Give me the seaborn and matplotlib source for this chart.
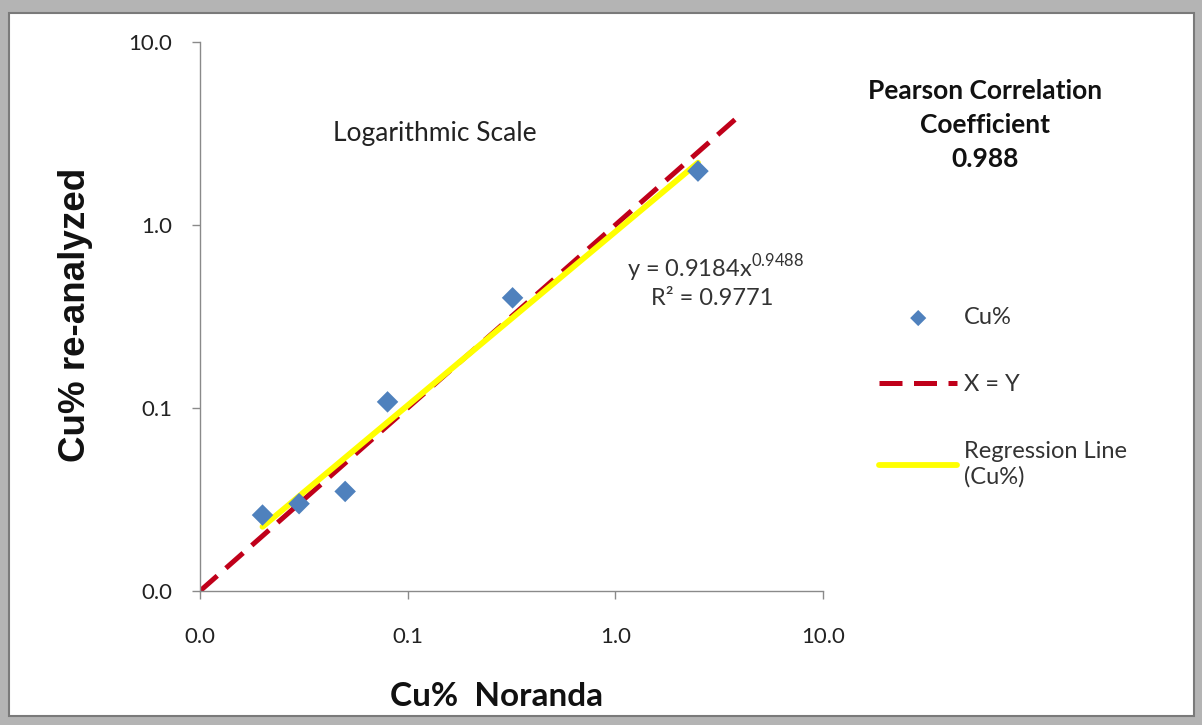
import numpy as np
import matplotlib
matplotlib.use("Agg")
import matplotlib.pyplot as plt
from matplotlib.patches import Rectangle
import seaborn as sns
import pandas as pd

# data
cu_noranda = [0.02, 0.03, 0.05, 0.08, 0.32, 2.5]
cu_reanalyzed = [0.026, 0.030, 0.035, 0.108, 0.40, 1.97]
xy_line = [0.01, 4.0]
reg_a, reg_b = 0.9184, 0.9488
r_squared = 0.9771
pearson = 0.988
tick_values = [0.01, 0.1, 1.0, 10.0]
tick_labels = ["0.0", "0.1", "1.0", "10.0"]

sns.set_theme(style="white")
plt.rcParams["font.family"] = ["Lato", "DejaVu Sans"]
plt.rcParams["mathtext.fontset"] = "custom"
plt.rcParams["mathtext.rm"] = "Lato"

fig = plt.figure(figsize=(12.02, 7.25), dpi=100, facecolor="#b4b4b4")
# white card with grey edge, kept behind the axes
fig.patches.append(Rectangle((9 / 1202, 1 - 716 / 725), 1185 / 1202, 703 / 725,
                             transform=fig.transFigure, facecolor="white",
                             edgecolor="#7a7a7a", linewidth=1.5, zorder=-5))

ax = fig.add_axes([200 / 1202, 1 - 591 / 725, 623 / 1202, 549 / 725])
ax.set_facecolor("none")
ax.set_zorder(2)

df = pd.DataFrame({"Noranda": cu_noranda, "Reanalyzed": cu_reanalyzed})

reg_x = np.geomspace(min(cu_noranda), max(cu_noranda), 50)
reg_y = reg_a * reg_x ** reg_b

sns.scatterplot(data=df, x="Noranda", y="Reanalyzed", marker="D", s=120,
                color="#4F81BD", edgecolor="none", label="Cu%", ax=ax, zorder=3)
ax.plot(xy_line, xy_line, color="#C0001A", linewidth=3.6, dashes=(4.6, 2.3),
        label="X = Y", zorder=2)
ax.plot(reg_x, reg_y, color="#FFFF00", linewidth=4.2,
        label="Regression Line\n(Cu%)", zorder=2.5)

ax.set_xscale("log")
ax.set_yscale("log")
ax.set_xlim(0.01, 10)
ax.set_ylim(0.01, 10)
ax.set_xticks(tick_values)
ax.set_xticklabels(tick_labels)
ax.set_yticks(tick_values)
ax.set_yticklabels(tick_labels)
ax.minorticks_off()
ax.set_xlabel("")
ax.set_ylabel("")

for side in ["top", "right"]:
    ax.spines[side].set_visible(False)
for side in ["left", "bottom"]:
    ax.spines[side].set_color("#8a8a8a")
    ax.spines[side].set_linewidth(1.0)
ax.tick_params(axis="both", which="major", direction="out", length=6, width=1,
               color="#8a8a8a", labelsize=16, labelcolor="#222222",
               bottom=True, left=True)
ax.tick_params(axis="x", pad=20)
ax.tick_params(axis="y", pad=14)

leg = ax.legend(loc="upper left", bbox_to_anchor=(858 / 1202, 1 - 286 / 725),
                bbox_transform=fig.transFigure, frameon=False, fontsize=17,
                handlelength=3.3, labelspacing=1.95, handletextpad=0.3,
                markerscale=0.75)
for t in leg.get_texts():
    t.set_color("#333333")

fig.text(435 / 1202, 1 - 133 / 725, "Logarithmic Scale", fontsize=19,
         ha="center", va="center", color="#222222")
fig.text(985 / 1202, 1 - 125 / 725,
         f"Pearson Correlation\nCoefficient\n{pearson}", fontsize=19,
         fontweight="bold", ha="center", va="center", linespacing=1.48,
         color="#111111")
fig.text(716 / 1202, 1 - 268 / 725, f"y = {reg_a}x$^{{{reg_b}}}$", fontsize=17,
         ha="center", va="center", color="#333333")
fig.text(712 / 1202, 1 - 298 / 725, f"R² = {r_squared}", fontsize=17,
         ha="center", va="center", color="#333333")

fig.text(76 / 1202, 1 - 315 / 725, "Cu% re-analyzed", fontsize=26.5,
         fontweight="bold", rotation=90, ha="center", va="center",
         family=["Liberation Sans", "DejaVu Sans"], color="#111111")
fig.text(497 / 1202, 1 - 697 / 725, "Cu%  Noranda", fontsize=24,
         fontweight="bold", ha="center", va="center", color="#111111")

fig.savefig("out.png", dpi=100, facecolor=fig.get_facecolor())
